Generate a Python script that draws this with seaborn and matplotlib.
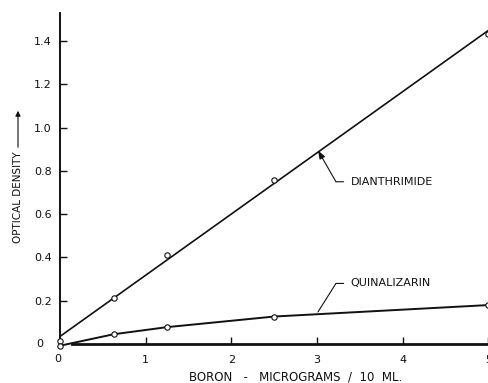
import matplotlib
matplotlib.use("Agg")
import matplotlib.pyplot as plt
import numpy as np
import pandas as pd
import seaborn as sns

# Boron standards (micrograms / 10 ml) and measured optical densities
boron_ug = [0, 0.625, 1.25, 2.5, 5]
dianthrimide_od = [0.015, 0.213, 0.41, 0.76, 1.435]
quinalizarin_od = [-0.008, 0.045, 0.078, 0.127, 0.18]

# Straight calibration line drawn for dianthrimide
dian_fit_x = [0, 5]
dian_fit_y = [0.035, 1.45]

x_ticks = [0, 1, 2, 3, 4, 5]
x_tick_labels = ["0", "1", "2", "3", "4", "5"]
y_ticks = [0, 0.2, 0.4, 0.6, 0.8, 1.0, 1.2, 1.4]
y_tick_labels = ["0", "0.2", "0.4", "0.6", "0.8", "1.0", "1.2", "1.4"]

sns.set_style("ticks")
plt.rcParams["font.family"] = ["DejaVu Sans"]

pts = pd.DataFrame({
    "boron": boron_ug * 2,
    "od": dianthrimide_od + quinalizarin_od,
    "reagent": ["Dianthrimide"] * len(boron_ug) + ["Quinalizarin"] * len(boron_ug),
})
fit = pd.DataFrame({"boron": dian_fit_x, "od": dian_fit_y})
quin = pts[pts["reagent"] == "Quinalizarin"]

fig = plt.figure(figsize=(4.89, 3.83), dpi=100)
ax = fig.add_axes([60 / 489, 39 / 383, 428.5 / 489, 331 / 383])

ink = "#111111"

# calibration lines
sns.lineplot(data=fit, x="boron", y="od", ax=ax, color=ink, lw=1.2, clip_on=False)
sns.lineplot(data=quin, x="boron", y="od", ax=ax, color=ink, lw=1.4, clip_on=False)

# open circles at each standard
sns.scatterplot(data=pts, x="boron", y="od", ax=ax, marker="o", s=15,
                facecolor="white", edgecolor=ink, linewidth=0.8,
                zorder=5, clip_on=False, legend=False)

ax.set_xlim(0, 5.0)
ax.set_ylim(0, 1.53)
ax.set_xticks(x_ticks[1:])
ax.set_xticklabels(x_tick_labels[1:])
ax.set_yticks(y_ticks[1:])
ax.set_yticklabels(y_tick_labels[1:])
ax.tick_params(axis="both", direction="in", length=5, width=1.0,
               labelsize=8, colors=ink, pad=6)
ax.tick_params(axis="x", pad=8)

# origin labels
ax.text(-0.2, 0.0, "0", ha="right", va="center", fontsize=8, color=ink)
ax.text(-0.03, -0.07, "0", ha="center", va="center", fontsize=8, color=ink)

for side in ("top", "right"):
    ax.spines[side].set_visible(False)
ax.spines["left"].set_linewidth(1.4)
ax.spines["left"].set_color(ink)
ax.spines["bottom"].set_linewidth(2.0)
ax.spines["bottom"].set_color(ink)
ax.spines["bottom"].set_bounds(0.14, 5.0)

ax.set_xlabel("BORON   -   MICROGRAMS  /  10  ML.", fontsize=8.5, color=ink)
ax.xaxis.set_label_coords((296 - 60) / 428.5, -(377 - 344) / 331, transform=ax.transAxes)
ax.xaxis.label.set_va("center")
ax.set_ylabel("")

# vertical axis title with arrow
fig.text(18 / 489, 1 - 197 / 383, "OPTICAL DENSITY", rotation=90,
         ha="center", va="center", fontsize=7.5, color=ink)
fig.add_artist(matplotlib.patches.FancyArrowPatch(
    (18 / 489, 1 - 150 / 383), (18 / 489, 1 - 108 / 383),
    transform=fig.transFigure, arrowstyle="-|>,head_length=3,head_width=1.5",
    color=ink, lw=0.8))

# curve labels with bent leader lines
def leader(label, tip, elbow, text_x, head):
    ax.text(text_x, elbow[1], label, fontsize=8, color=ink,
            ha="left", va="center")
    ax.annotate("", xy=(text_x - 0.08, elbow[1]), xytext=elbow,
                arrowprops=dict(arrowstyle="-", color=ink, lw=0.8,
                                shrinkA=0, shrinkB=0))
    style = "-|>,head_length=0.5,head_width=0.18" if head else "-"
    ax.annotate("", xy=tip, xytext=elbow,
                arrowprops=dict(arrowstyle=style, color=ink, lw=0.8,
                                shrinkA=0, shrinkB=0))

leader("DIANTHRIMIDE", (3.01, 0.895), (3.22, 0.75), 3.39, True)
leader("QUINALIZARIN", (3.01, 0.148), (3.22, 0.28), 3.39, False)

fig.savefig("out.png", dpi=100, facecolor="white")
